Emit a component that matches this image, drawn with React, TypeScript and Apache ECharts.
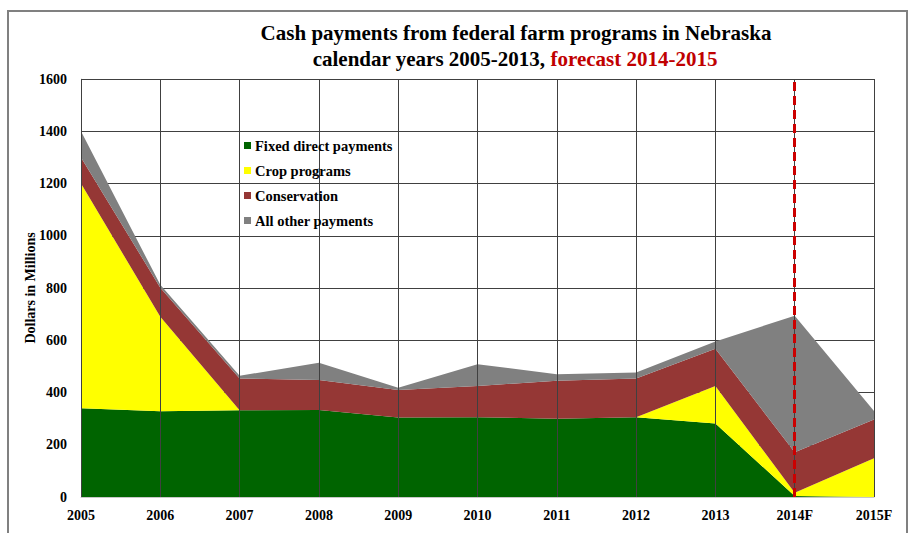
import React, { useEffect, useRef } from "react";
import * as echarts from "echarts";

const years = ["2005", "2006", "2007", "2008", "2009", "2010", "2011", "2012", "2013", "2014F", "2015F"];
const fixedDirect = [340, 328, 332, 333, 304, 305, 300, 305, 281, 4, 0];
const cropPrograms = [860, 362, 0, 0, 0, 0, 0, 0, 144, 12, 148];
const conservation = [100, 111, 122, 115, 106, 120, 145, 149, 142, 155, 149];
const allOther = [100, 11, 10, 66, 8, 83, 25, 23, 28, 523, 32];
const seriesNames = ["Fixed direct payments", "Crop programs", "Conservation", "All other payments"];
const seriesColors = ["#006400", "#FFFF00", "#953735", "#808080"];
const forecastMarker = "2014F";

const FONT = "'Liberation Serif', 'Times New Roman', serif";

export default function App() {
  const ref = useRef<HTMLDivElement>(null);
  useEffect(() => {
    if (!ref.current) return;
    const chart = echarts.init(ref.current, null, { renderer: "svg" });
    const values = [fixedDirect, cropPrograms, conservation, allOther];
    const series: any[] = values.map((d, i) => ({
      name: seriesNames[i],
      type: "line",
      stack: "total",
      data: d,
      showSymbol: false,
      symbol: "none",
      lineStyle: { width: 0 },
      areaStyle: { color: seriesColors[i], opacity: 1 },
      itemStyle: { color: seriesColors[i] },
      z: 2,
    }));
    series[3].markLine = {
      silent: true,
      symbol: "none",
      label: { show: false },
      lineStyle: { color: "#CC0000", width: 3, type: [9, 5] },
      data: [{ xAxis: forecastMarker }],
      z: 5,
    };
    chart.setOption({
      animation: false,
      backgroundColor: "#ffffff",
      textStyle: { fontFamily: FONT },
      title: [
        {
          text: "Cash payments from federal farm programs in Nebraska",
          left: 511,
          top: 17,
          textAlign: "center",
          textStyle: { fontFamily: FONT, fontSize: 21, fontWeight: "bold", color: "#000" },
        },
        {
          text: "{a|calendar years 2005-2013, }{b|forecast 2014-2015}",
          left: 510,
          top: 43,
          textAlign: "center",
          textStyle: {
            rich: {
              a: { fontFamily: FONT, fontSize: 21, fontWeight: "bold", color: "#000" },
              b: { fontFamily: FONT, fontSize: 21, fontWeight: "bold", color: "#C00000" },
            },
          },
        },
      ],
      graphic: [
        {
          type: "rect",
          shape: { x: 8, y: 11, width: 899, height: 540 },
          style: { fill: "none", stroke: "#808080", lineWidth: 2 },
          z: -1,
          silent: true,
        },
      ],
      legend: {
        orient: "vertical",
        left: 239,
        top: 133,
        itemWidth: 7,
        itemHeight: 7,
        itemGap: 10,
        icon: "rect",
        data: seriesNames,
        textStyle: { fontFamily: FONT, fontSize: 14.5, fontWeight: "bold", color: "#000", padding: [0, 0, 0, -1] },
      },
      grid: { left: 81, right: 37, top: 79, bottom: 36, containLabel: false },
      xAxis: {
        type: "category",
        data: years,
        boundaryGap: false,
        axisLine: { show: true, lineStyle: { color: "#c8c8c8", width: 1 } },
        axisTick: { show: false },
        axisLabel: { fontFamily: FONT, fontSize: 14, fontWeight: "bold", color: "#000", margin: 11 },
        splitLine: { show: true, lineStyle: { color: "#404040", width: 1 } },
        z: 3,
      },
      yAxis: {
        type: "value",
        min: 0,
        max: 1600,
        interval: 200,
        name: "Dollars in Millions",
        nameLocation: "middle",
        nameGap: 44,
        nameMoveOverlap: false,
        nameRotate: 90,
        nameTextStyle: { fontFamily: FONT, fontSize: 14, fontWeight: "bold", color: "#000" },
        axisLine: { show: true, lineStyle: { color: "#c8c8c8", width: 1 } },
        axisTick: { show: false },
        axisLabel: {
          fontFamily: FONT,
          fontSize: 14,
          fontWeight: "bold",
          color: "#000",
          margin: 14,
          formatter: (v: number) => String(v),
        },
        splitLine: { show: true, lineStyle: { color: "#404040", width: 1 } },
      },
      series,
    });
    return () => chart.dispose();
  }, []);
  return (
    <div
      ref={ref}
      style={{ position: "absolute", left: 0, top: 0, width: 911, height: 533 }}
    />
  );
}
